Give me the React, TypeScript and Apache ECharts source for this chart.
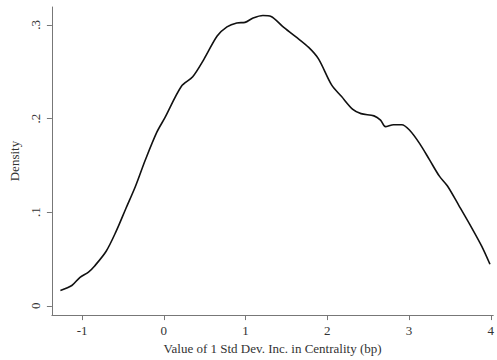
import React, { useEffect, useRef } from "react";
import * as echarts from "echarts";

const xValues: number[] = [
  -1.266, -1.126, -1.026, -0.926, -0.847, -0.706, -0.586, -0.466, -0.346, -0.226,
  -0.086, 0.013, 0.213, 0.353, 0.493, 0.652, 0.772, 0.892, 0.993, 1.092,
  1.212, 1.312, 1.452, 1.612, 1.772, 1.892, 2.052, 2.172, 2.312, 2.412,
  2.571, 2.651, 2.711, 2.811, 2.911, 3.01, 3.13, 3.251, 3.371, 3.47,
  3.61, 3.77, 3.89, 3.99,
];
const densityValues: number[] = [
  0.0165, 0.0217, 0.0305, 0.0357, 0.0426, 0.0583, 0.0792, 0.1037, 0.128, 0.156,
  0.1855, 0.201, 0.2343, 0.2447, 0.2638, 0.2882, 0.298, 0.3022, 0.3028, 0.3074,
  0.3101, 0.3091, 0.2986, 0.2876, 0.2761, 0.2638, 0.236, 0.2238, 0.2098, 0.2053,
  0.2029, 0.1983, 0.1914, 0.1935, 0.1935, 0.1873, 0.1733, 0.1559, 0.1385, 0.128,
  0.1071, 0.0828, 0.0635, 0.0444,
];
const xTicks: number[] = [-1, 0, 1, 2, 3, 4];
const yTicks: number[] = [0, 0.1, 0.2, 0.3];
const xTitle = "Value of 1 Std Dev. Inc. in Centrality (bp)";
const yTitle = "Density";

const FONT = "'Liberation Serif', 'Times New Roman', serif";

export default function App() {
  const ref = useRef<HTMLDivElement>(null);
  useEffect(() => {
    if (!ref.current) return;
    const chart = echarts.init(ref.current, undefined, { renderer: "svg" });
    const axisColor = "#777";
    const textColor = "#333";
    chart.setOption({
      animation: false,
      backgroundColor: "#fff",
      grid: { left: 45, right: 2, top: 7, bottom: 39, containLabel: false },
      xAxis: {
        type: "value",
        min: -1.37,
        max: 4.03,
        name: xTitle,
        nameLocation: "middle",
        nameGap: 24,
        nameTextStyle: { fontFamily: FONT, fontSize: 13, color: textColor },
        axisLine: { show: true, onZero: false, lineStyle: { color: axisColor, width: 1 } },
        axisTick: { show: true, length: 5, lineStyle: { color: axisColor }, customValues: xTicks },
        axisLabel: {
          customValues: xTicks,
          fontFamily: FONT,
          fontSize: 13,
          color: textColor,
          margin: 9,
          formatter: (v: number) => String(v),
        },
        splitLine: { show: false },
      },
      yAxis: {
        type: "value",
        min: -0.0099,
        max: 0.3192,
        name: yTitle,
        nameLocation: "middle",
        nameGap: 24,
        nameRotate: 90,
        nameTextStyle: { fontFamily: FONT, fontSize: 13, color: textColor },
        axisLine: { show: true, onZero: false, lineStyle: { color: axisColor, width: 1 } },
        axisTick: { show: true, length: 5, lineStyle: { color: axisColor }, customValues: yTicks },
        axisLabel: {
          customValues: yTicks,
          rotate: 90,
          fontFamily: FONT,
          fontSize: 13,
          color: textColor,
          margin: 10,
          formatter: (v: number) => (v === 0 ? "0" : String(Math.round(v * 10) / 10).replace(/^0\./, ".")),
        },
        splitLine: { show: false },
      },
      series: [
        {
          type: "line",
          data: xValues.map((x, i) => [x, densityValues[i]]),
          showSymbol: false,
          smooth: 0.3,
          lineStyle: { color: "#111", width: 1.6 },
        },
      ],
    });
    return () => chart.dispose();
  }, []);
  return <div ref={ref} style={{ width: 497, height: 360, position: "absolute", left: 0, top: 0 }} />;
}
